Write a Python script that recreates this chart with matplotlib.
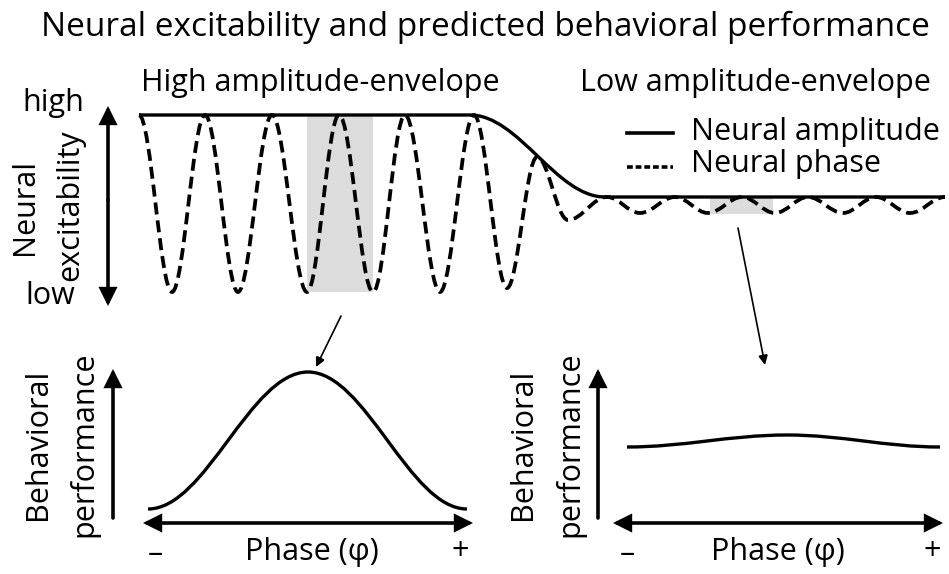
import numpy as np
import matplotlib.pyplot as plt
from matplotlib.path import Path
from matplotlib.patches import PathPatch, Rectangle

plt.rcParams['font.family'] = ['Open Sans', 'DejaVu Sans']

# everything in pixel coordinates (y grows downward)
# neural phase: successive peaks / troughs of the dashed oscillation
phase_x = [139, 172, 205, 238, 272, 307, 339, 373, 405, 440, 474, 507, 537,
           568, 607, 640, 675, 708, 742, 775, 808, 843, 876, 910, 945]
phase_y = [115, 292, 115, 292, 115, 292, 115, 292, 115, 292, 115, 288, 157,
           220, 197, 213, 197, 213, 197, 213, 197, 213, 197, 213, 197]
# neural amplitude envelope: key points
env_x = [139, 470, 605, 945]
env_y = [115, 115, 197, 197]
# behavioral performance vs phase: ends and peak
perf_hi_x = [148, 308, 467]
perf_hi_y = [509, 372, 509]
perf_lo_x = [627, 787, 940]
perf_lo_y = [447, 435, 447]
# shaded windows (x0, y0, x1, y1)
windows = [(307, 116, 373, 292), (710, 197, 773, 214)]

FS = 22


def smooth_path(xs, ys):
    # cubic bezier between key points, flat tangent at each one
    verts = [(xs[0], ys[0])]
    codes = [Path.MOVETO]
    for x0, y0, x1, y1 in zip(xs[:-1], ys[:-1], xs[1:], ys[1:]):
        d = 0.363 * (x1 - x0)
        verts += [(x0 + d, y0), (x1 - d, y1), (x1, y1)]
        codes += [Path.CURVE4] * 3
    return Path(verts, codes)


def arrow(ax, p0, p1, style='-|>', lw=2.6, ms=28):
    ax.annotate('', xy=p1, xytext=p0,
                arrowprops=dict(arrowstyle=style, lw=lw, color='k',
                                mutation_scale=ms, shrinkA=0, shrinkB=0,
                                joinstyle='miter'))


fig = plt.figure(figsize=(9.49, 5.74), dpi=100)
ax = fig.add_axes([0, 0, 1, 1])
ax.set_xlim(0, 949)
ax.set_ylim(574, 0)
ax.axis('off')

for x0, y0, x1, y1 in windows:
    ax.add_patch(Rectangle((x0, y0), x1 - x0, y1 - y0, color='#dcdcdc', lw=0))

ax.add_patch(PathPatch(smooth_path(env_x, env_y), fill=False, lw=2.4, color='k'))
ax.add_patch(PathPatch(smooth_path(phase_x, phase_y), fill=False, lw=2.7,
                       color='k', ls=(0, (3.2, 1.6))))

ax.add_patch(PathPatch(smooth_path(perf_hi_x, perf_hi_y), fill=False, lw=2.4, color='k'))
ax.add_patch(PathPatch(smooth_path(perf_lo_x, perf_lo_y), fill=False, lw=2.4, color='k'))

# axes arrows
arrow(ax, (108, 200), (108, 106), ms=24)
arrow(ax, (108, 200), (108, 306), ms=24)
arrow(ax, (113, 518), (113, 369), ms=24)
arrow(ax, (143, 523), (473, 523), style='<|-|>', ms=24)
arrow(ax, (598, 518), (598, 369), ms=24)
arrow(ax, (613, 523), (943, 523), style='<|-|>', ms=24)

# pointers from the shaded windows
arrow(ax, (341, 316), (316, 367), lw=1.2, ms=14)
arrow(ax, (738, 228), (765, 365), lw=1.2, ms=14)

# legend
ax.plot([627, 673], [133, 133], color='k', lw=2.6)
ax.plot([627, 673], [167, 167], color='k', lw=2.6, ls=(0, (1.6, 0.8)))
ax.text(691, 132, 'Neural amplitude', fontsize=FS, va='center')
ax.text(691, 164, 'Neural phase', fontsize=FS, va='center')

ax.text(485, 27, 'Neural excitability and predicted behavioral performance',
        fontsize=24, ha='center', va='center')
ax.text(320, 83, 'High amplitude-envelope', fontsize=FS, ha='center', va='center')
ax.text(755, 83, 'Low amplitude-envelope', fontsize=FS, ha='center', va='center')

ax.text(53, 103, 'high', fontsize=FS, ha='center', va='center')
ax.text(50, 296, 'low', fontsize=FS, ha='center', va='center')
ax.text(25, 207, 'Neural', fontsize=FS, ha='center', va='center', rotation=90)
ax.text(70, 205, 'excitability', fontsize=FS, ha='center', va='center', rotation=90)

for xb, xp, x_minus, x_phase, x_plus in [(38, 84, 155, 312, 460),
                                         (523, 570, 627, 778, 932)]:
    ax.text(xb, 444, 'Behavioral', fontsize=FS, ha='center', va='center', rotation=90)
    ax.text(xp, 444, 'performance', fontsize=FS, ha='center', va='center', rotation=90)
    ax.text(x_minus, 554, '–', fontsize=FS, ha='center', va='center')
    ax.text(x_phase, 552, 'Phase (φ)', fontsize=FS, ha='center', va='center')
    ax.text(x_plus, 552, '+', fontsize=FS, ha='center', va='center')

fig.savefig('out.png', dpi=100)
